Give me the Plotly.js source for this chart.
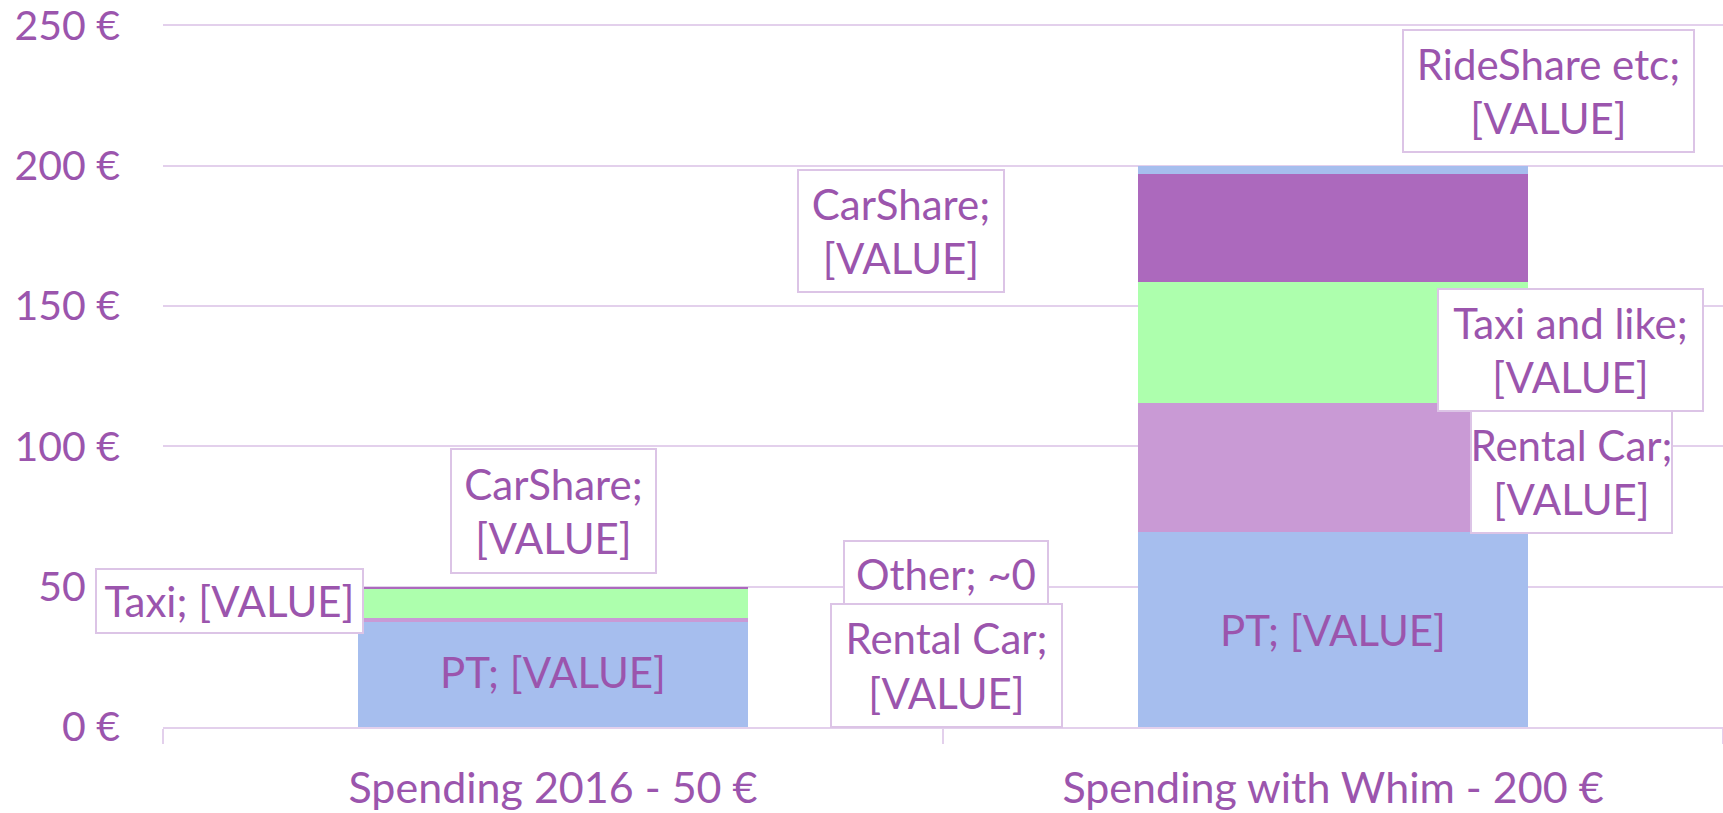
<!DOCTYPE html>
<html>
<head>
<meta charset="utf-8">
<script src="https://cdn.plot.ly/plotly-3.0.1.min.js"></script>
<style>html,body{margin:0;padding:0;background:#fff;}#chart{width:1723px;height:813px;}</style>
</head>
<body>
<div id="chart"></div>
<script>
const categories = ["Spending 2016 - 50 €", "Spending with Whim - 200 €"];
const seriesNames = ["PT", "Rental Car", "Taxi", "CarShare", "RideShare etc", "Other"];
const pt = [37.5, 69.5];
const rentalCar = [1.2, 46];
const taxi = [10.5, 43];
const carShare = [0.8, 38.5];
const rideShare = [0, 3];
const other = [0, 0];
const yTicks = [0, 50, 100, 150, 200, 250];

const colors = ["#A6BEEE", "#C99AD5", "#ADFFAD", "#AC69BD", "#A6BEEE", "#9B55AD"];
const values = [pt, rentalCar, taxi, carShare, rideShare, other];

const textColor = "#9B55AD";
const lineColor = "#E3D0EC";
const fontFam = "Lato, 'Open Sans', sans-serif";

const traces = seriesNames.map((name, i) => ({
  type: "bar",
  name: name,
  x: categories,
  y: values[i],
  marker: {color: colors[i], line: {width: 0}},
  width: 0.5,
  hoverinfo: "none"
}));

// label annotations: [text, category index offset, y value, box width, box height, bordered]
const labels = [
  ["RideShare etc;<br>[VALUE]", 1.276, 226.5, 289, 120, true],
  ["CarShare;<br>[VALUE]", 0.446, 176.7, 204, 120, true],
  ["Taxi and like;<br>[VALUE]", 1.305, 134.4, 263, 120, true],
  ["Rental Car;<br>[VALUE]", 1.306, 90.7, 199, 120, true],
  ["PT; [VALUE]", 1.0, 34.5, 240, 60, false],
  ["CarShare;<br>[VALUE]", 0.0, 76.8, 203, 122, true],
  ["Taxi; [VALUE]", -0.415, 44.8, 265, 62, true],
  ["PT; [VALUE]", 0.0, 19.6, 240, 60, false],
  ["Other; ~0", 0.504, 54.4, 202, 64, true],
  ["Rental Car;<br>[VALUE]", 0.505, 22.0, 229, 121, true]
];

const annotations = labels.map(l => ({
  text: l[0], xref: "x", yref: "y", x: l[1], y: l[2],
  showarrow: false, xanchor: "center", yanchor: "middle",
  width: l[3], height: l[4], borderpad: 0,
  bgcolor: l[5] ? "#FFFFFF" : "rgba(0,0,0,0)",
  bordercolor: l[5] ? "#DCC4E6" : "rgba(0,0,0,0)",
  borderwidth: l[5] ? 2 : 0,
  font: {family: fontFam, size: 42, color: textColor}
}));

const layout = {
  width: 1723, height: 813,
  margin: {l: 163, r: 0, t: 23, b: 86, pad: 0},
  paper_bgcolor: "#FFFFFF", plot_bgcolor: "#FFFFFF",
  barmode: "stack",
  showlegend: false,
  font: {family: fontFam, color: textColor},
  xaxis: {
    type: "category",
    range: [-0.5, 1.5],
    showline: true, linecolor: lineColor, linewidth: 2,
    ticks: "outside", tickson: "boundaries", ticklen: 15, tickcolor: lineColor, tickwidth: 2,
    showgrid: false,
    tickfont: {family: fontFam, size: 43, color: textColor},
    ticklabelstandoff: 22
  },
  yaxis: {
    range: [0, 250.8],
    tickvals: yTicks,
    ticktext: yTicks.map(v => v + " €"),
    showgrid: true, gridcolor: lineColor, gridwidth: 2,
    zeroline: false, showline: false, ticks: "",
    tickfont: {family: fontFam, size: 41, color: textColor},
    ticklabelstandoff: 42,
    ticklabeloverflow: "allow"
  },
  annotations: annotations
};

Plotly.newPlot("chart", traces, layout, {displayModeBar: false, staticPlot: true});
</script>
</body>
</html>
